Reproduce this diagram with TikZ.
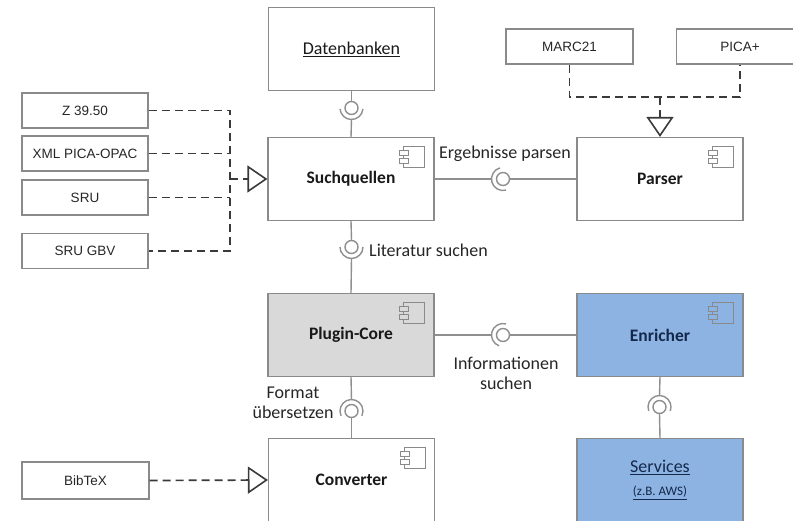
\documentclass[tikz,border=0pt]{standalone}
\usepackage{fontspec}
\setmainfont{Carlito}
\newfontfamily\arialfont{Liberation Sans}
\usetikzlibrary{arrows.meta}
\definecolor{boxgray}{HTML}{8A8A8A}
\definecolor{linegray}{HTML}{8F8F8F}
\definecolor{depgray}{HTML}{3A3A3A}
\definecolor{coregray}{HTML}{D9D9D9}
\definecolor{enrblue}{HTML}{8DB3E2}
\definecolor{navy}{HTML}{14284B}
\tikzset{
  icon/.pic={
    \draw[boxgray,line width=1pt] (-21,0) rectangle (0,21);
    \draw[boxgray,line width=1pt,fill=#1] (-25,4) rectangle (-16,9) (-25,12) rectangle (-16,17);
  }
}
\begin{document}
\begin{tikzpicture}[x=1pt,y=-1pt,
  comp/.style={draw=boxgray,line width=1.2pt,minimum width=166pt,minimum height=83pt,inner sep=0pt,
    font=\fontsize{17.5}{21}\selectfont\bfseries,text=black!90},
  art/.style={draw=boxgray,line width=1.2pt,minimum width=126pt,minimum height=35pt,inner sep=0pt,
    font=\arialfont\fontsize{13.5}{16}\selectfont,text=black!85},
  conn/.style={draw=linegray,line width=1.4pt},
  ball/.style={circle,draw=linegray,line width=1.4pt,minimum size=13pt,inner sep=0pt,fill=white},
  sock/.style={draw=linegray,line width=1.4pt},
  dep/.style={draw=depgray,line width=1.7pt,dash pattern=on 8pt off 5pt},
  real/.style={dep,-{Triangle[open,length=20pt,width=27pt,line width=1.6pt]}},
  lbl/.style={font=\fontsize{18}{20}\selectfont,text=black!85,inner sep=0pt}
]
\useasboundingbox (0,0) rectangle (793,520);
\clip (0,0) rectangle (793,520);

% component boxes
\node[comp,font=\fontsize{18}{21}\selectfont] (db) at (351.5,49) {\underline{Datenbanken}};
\node[comp] (sq) at (351,179) {Suchquellen};
\node[comp] (parser) at (660,179) {Parser};
\node[comp,fill=coregray] (core) at (351,335) {Plugin-Core};
\node[comp,fill=enrblue,text=navy] (enr) at (660,335) {Enricher};
\node[comp] (conv) at (351.5,480) {Converter};
\node[comp,fill=enrblue,text=navy,align=center,font=\fontsize{18}{22}\selectfont] (serv) at (660,480)
  {\underline{Services}\\[1pt]{\fontsize{13}{15}\selectfont\underline{(z.B. AWS)}}};

% component icons
\pic at ([shift={(-10,10)}]sq.north east) {icon=white};
\pic at ([shift={(-10,10)}]parser.north east) {icon=white};
\pic at ([shift={(-10,10)}]core.north east) {icon=coregray};
\pic at ([shift={(-10,10)}]enr.north east) {icon=enrblue};
\pic at ([shift={(-10,10)}]conv.north east) {icon=white};

% artifact boxes
\node[art] (z) at (85,110.5) {Z 39.50};
\node[art] (xml) at (85,153.5) {XML PICA-OPAC};
\node[art] (sru) at (85,197.5) {SRU};
\node[art] (gbv) at (85,251) {SRU GBV};
\node[art,minimum width=127pt,minimum height=37pt] (bib) at (85.5,480.5) {BibTeX};
\node[art,minimum width=127pt] (marc) at (569.5,46.5) {MARC21};
\node[art,minimum width=127pt] (pica) at (740,46.5) {PICA+};

% dependency / realization lines
\coordinate (jl) at (230,179);
\coordinate (jt) at (660,97);
\draw[dep] (z.east) -| (jl) |- (gbv.east);
\draw[dep] (xml.east) -- (xml.east -| jl);
\draw[dep] (sru.east) -- (sru.east -| jl);
\draw[real] (jl) -- (sq.west);
\draw[dep] (marc.south) |- (jt) -| (pica.south);
\draw[real] (jt) -- (parser.north);
\draw[real] (bib.east) -- (conv.west);

% interfaces (ball and socket)
\node[ball] (b1) at (351.5,108) {};
\node[ball] (b2) at (503,179) {};
\node[ball] (b3) at (351.5,247) {};
\node[ball] (b4) at (503,335) {};
\node[ball] (b5) at (351.5,411) {};
\node[ball] (b6) at (659.5,407) {};

\coordinate (s1) at (351.5,119.5);
\coordinate (s2) at (491.5,179);
\coordinate (s3) at (351.5,258.5);
\coordinate (s4) at (491.5,335);
\coordinate (s5) at (351.5,399.5);
\coordinate (s6) at (659.5,395.5);

\draw[sock] (b1.center) ++(5:11.5) arc[start angle=5,end angle=175,radius=11.5];
\draw[sock] (b2.center) ++(-105:11.5) arc[start angle=-105,end angle=-285,radius=11.5];
\draw[sock] (b3.center) ++(0:11.5) arc[start angle=0,end angle=180,radius=11.5];
\draw[sock] (b4.center) ++(-75:11.5) arc[start angle=-75,end angle=-250,radius=11.5];
\draw[sock] (b5.center) ++(-205:11.5) arc[start angle=-205,end angle=25,radius=11.5];
\draw[sock] (b6.center) ++(-200:11.5) arc[start angle=-200,end angle=20,radius=11.5];

\draw[conn] (db.south) -- (b1.north);
\draw[conn] (s1) -- (sq.north);
\draw[conn] (sq.east) -- (s2);
\draw[conn] (b2.east) -- (parser.west);
\draw[conn] (sq.south) -- (b3.north);
\draw[conn] (s3) -- (core.north);
\draw[conn] (core.east) -- (s4);
\draw[conn] (b4.east) -- (enr.west);
\draw[conn] (core.south) -- (s5);
\draw[conn] (b5.south) -- (conv.north);
\draw[conn] (enr.south) -- (s6);
\draw[conn] (b6.south) -- (serv.north);

% interface labels
\node[lbl] (l2) at (505,154) {Ergebnisse parsen};
\node[lbl,anchor=west] (l3) at (369,250) {Literatur suchen};
\node[lbl,align=center] (l4) at (506,373) {Informationen\\suchen};
\node[lbl,align=center] (l5) at (293,403) {Format\\übersetzen};
\end{tikzpicture}
\end{document}
